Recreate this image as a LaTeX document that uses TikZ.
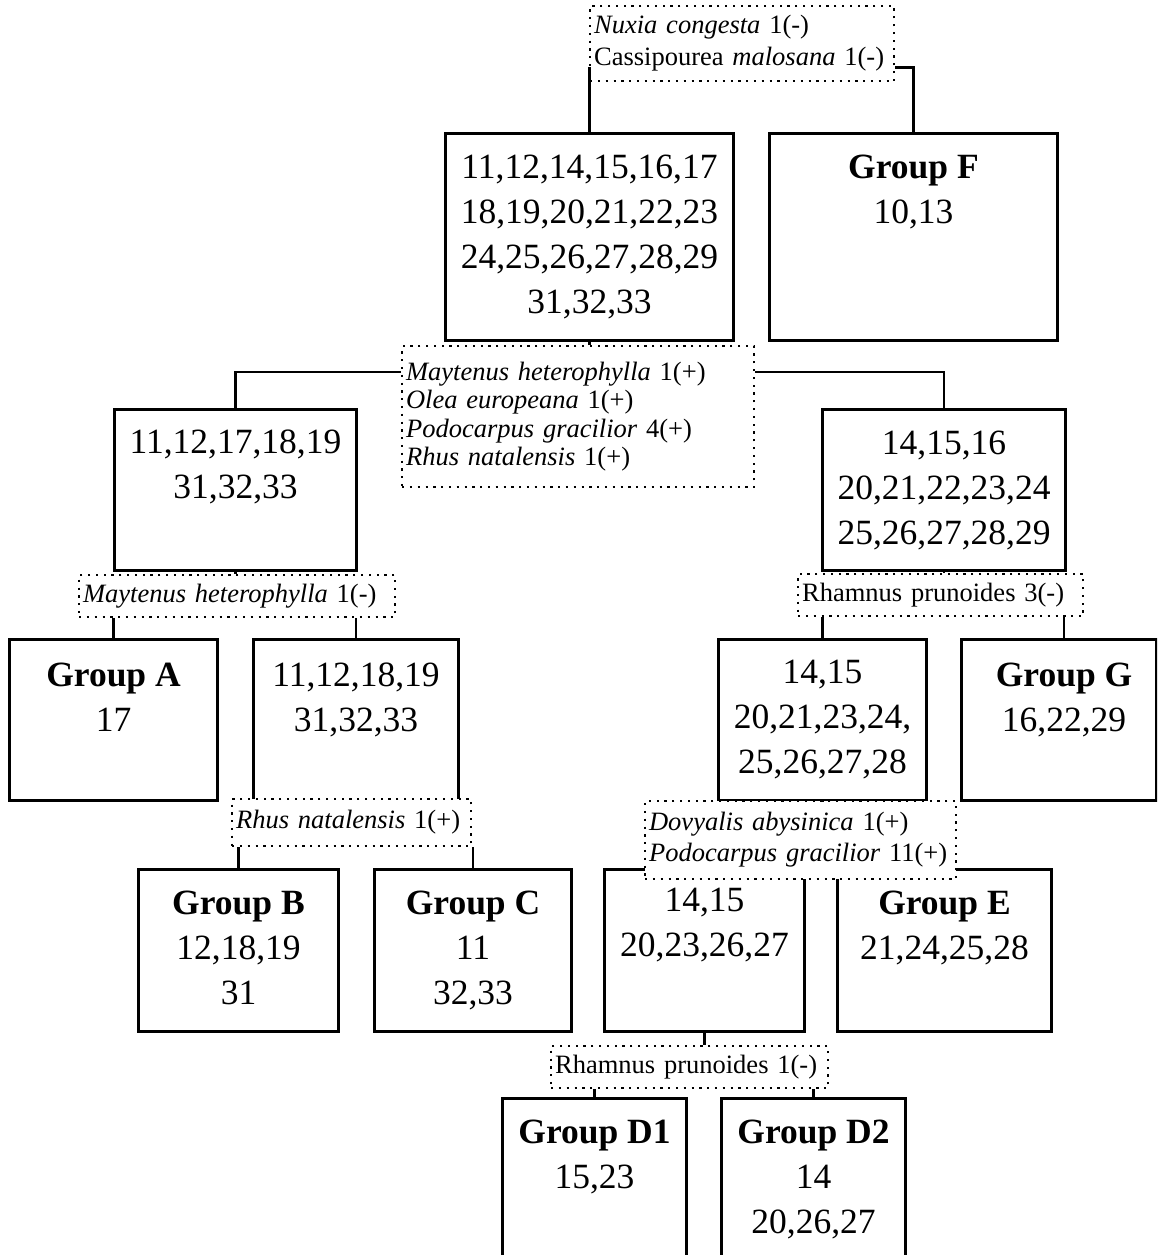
\documentclass[tikz,border=0pt]{standalone}
\usepackage{fontspec}
\setmainfont{Liberation Serif}
\usetikzlibrary{calc}
\begin{document}
\begin{tikzpicture}[x=1pt,y=-1pt,
  grp/.style={draw, line width=3pt, anchor=north west, inner sep=0pt},
  nums/.style={font=\fontsize{35.5}{45}\selectfont, align=center, inner sep=0pt, anchor=north},
  cond/.style={draw, fill=white, line width=2.2pt, dash pattern=on 2.2pt off 5.6pt,
    anchor=north west, inner xsep=4pt, inner ysep=0pt, align=left,
    font=\fontsize{26.5}{30}\selectfont},
  link/.style={line width=2.7pt}]
\useasboundingbox (0,0) rectangle (1157,1255);
\clip (0,0) rectangle (1157,1255);

% cluster boxes
\node[grp, minimum width=288pt, minimum height=207pt] (all) at (444,132) {};
\node[grp, minimum width=288pt, minimum height=207pt] (F)   at (768,132) {};
\node[grp, minimum width=242pt, minimum height=161pt] (L1)  at (113,408) {};
\node[grp, minimum width=243pt, minimum height=161pt] (R1)  at (821,408) {};
\node[grp, minimum width=208pt, minimum height=161pt] (A)   at (8,638) {};
\node[grp, minimum width=205pt, minimum height=161pt] (L2)  at (252,638) {};
\node[grp, minimum width=208pt, minimum height=161pt] (R2)  at (717,638) {};
\node[grp, minimum width=195pt, minimum height=161pt] (G)   at (960,638) {};
\node[grp, minimum width=200pt, minimum height=162pt] (B)   at (137,868) {};
\node[grp, minimum width=197pt, minimum height=162pt] (C)   at (373,868) {};
\node[grp, minimum width=200pt, minimum height=162pt] (D)   at (603,868) {};
\node[grp, minimum width=214pt, minimum height=162pt] (E)   at (836,868) {};
\node[grp, minimum width=184pt, minimum height=190pt] (D1)  at (501,1097) {};
\node[grp, minimum width=184pt, minimum height=190pt] (D2)  at (720,1097) {};

% site lists
\node[nums] (all-t) at ([yshift=-23pt]all.north) {11,12,14,15,16,17\\18,19,20,21,22,23\\24,25,26,27,28,29\\31,32,33};
\node[nums] (F-t)   at ([yshift=-23pt]F.north) {\textbf{Group F}\\10,13};
\node[nums] (L1-t)  at ([yshift=-22pt]L1.north) {11,12,17,18,19\\31,32,33};
\node[nums] (R1-t)  at ([yshift=-23pt]R1.north) {14,15,16\\20,21,22,23,24\\25,26,27,28,29};
\node[nums] (A-t)   at ([yshift=-25pt]A.north) {\textbf{Group A}\\17};
\node[nums] (L2-t)  at ([yshift=-25pt]L2.north) {11,12,18,19\\31,32,33};
\node[nums] (R2-t)  at ([yshift=-22pt]R2.north) {14,15\\20,21,23,24,\\25,26,27,28};
\node[nums] (G-t)   at ([yshift=-25pt,xshift=5pt]G.north) {\textbf{Group G}\\16,22,29};
\node[nums] (B-t)   at ([yshift=-23pt]B.north) {\textbf{Group B}\\12,18,19\\31};
\node[nums] (C-t)   at ([yshift=-23pt]C.north) {\textbf{Group C}\\11\\32,33};
\node[nums] (D-t)   at ([yshift=-20pt]D.north) {14,15\\20,23,26,27};
\node[nums] (E-t)   at ([yshift=-23pt]E.north) {\textbf{Group E}\\21,24,25,28};
\node[nums] (D1-t)  at ([yshift=-23pt]D1.north) {\textbf{Group D1}\\15,23};
\node[nums] (D2-t)  at ([yshift=-23pt]D2.north) {\textbf{Group D2}\\14\\20,26,27};

% splitting species
\node[cond, text width=296pt, minimum height=75pt, font=\fontsize{26.5}{32}\selectfont] (nux) at (589,5)
  {\textit{Nuxia congesta} 1(-)\\Cassipourea \textit{malosana} 1(-)};
\node[cond, text width=344pt, minimum height=141pt, font=\fontsize{26.5}{28.3}\selectfont] (m4) at (401,345)
  {\textit{Maytenus heterophylla} 1(+)\\\textit{Olea europeana} 1(+)\\\textit{Podocarpus gracilior} 4(+)\\\textit{Rhus natalensis} 1(+)};
\node[cond, text width=308pt, minimum height=42pt] (m1) at (78,574) {\textit{Maytenus heterophylla} 1(-)};
\node[cond, text width=277pt, minimum height=42pt] (r3) at (797,573) {Rhamnus prunoides 3(-)};
\node[cond, text width=231pt, minimum height=47pt] (rh) at (231,798) {\textit{Rhus natalensis} 1(+)};
\node[cond, text width=303pt, minimum height=78pt, font=\fontsize{26.5}{31}\selectfont] (dov) at (644,800)
  {\textit{Dovyalis abysinica} 1(+)\\\textit{Podocarpus gracilior} 11(+)};
\node[cond, text width=269pt, minimum height=42pt] (r1) at (550,1045) {Rhamnus prunoides 1(-)};

% junctions on the split labels
\coordinate (nuxj) at ($(nux.south)+(0,-15)$);
\coordinate (m4j)  at ($(m4.north)+(0,27)$);

% tree connectors
\draw[link] (all.north) -- (all.north |- nuxj);
\draw[link] (nux.east |- nuxj) -| (F.north);
\draw[link] (all.south) -- (all.south |- m4.north);
\draw[link] (m4.west |- m4j) -| (L1.north);
\draw[link] (m4.east |- m4j) -| (R1.north);
\draw[link] (L1.south) -- (L1.south |- m1.north);
\draw[link] (A.north) -- (A.north |- m1.south);
\draw[link] (L2.north) -- (L2.north |- m1.south);
\draw[link] (R1.south) -- (R1.south |- r3.north);
\draw[link] (R2.north) -- (R2.north |- r3.south);
\draw[link] ([xshift=5pt]G.north) -- ([xshift=5pt]G.north |- r3.south);
\draw[link] (B.north) -- (B.north |- rh.south);
\draw[link] (C.north) -- (C.north |- rh.south);
\draw[link] (R2.south) -- (R2.south |- dov.north);
\draw[link] (D.south) -- (D.south |- r1.north);
\draw[link] (D1.north) -- (D1.north |- r1.south);
\draw[link] (D2.north) -- (D2.north |- r1.south);
\end{tikzpicture}
\end{document}
